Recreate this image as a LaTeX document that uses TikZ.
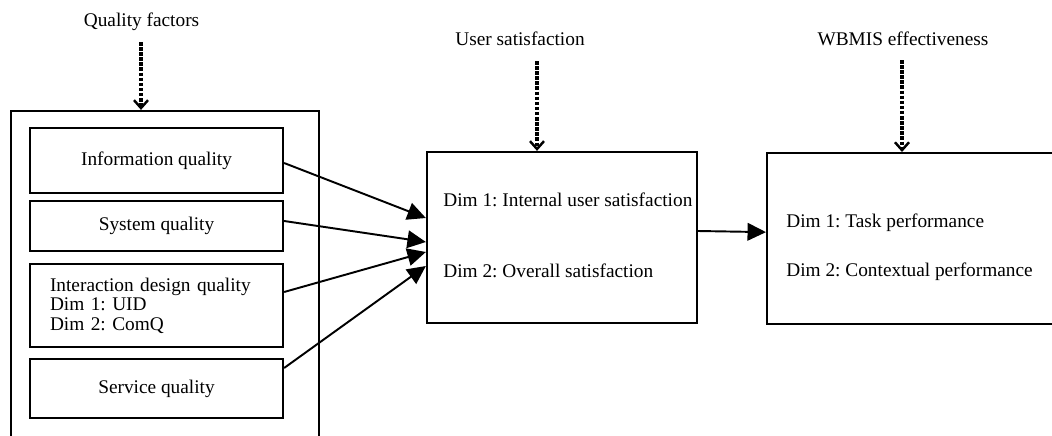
\documentclass[tikz,border=0pt]{standalone}
\usepackage{fontspec}
\setmainfont{Liberation Serif}
\usetikzlibrary{arrows.meta,positioning}
\frenchspacing

\begin{document}
\begin{tikzpicture}[x=0.02cm,y=-0.02cm,
    font=\fontsize{11}{11.1}\selectfont,
    box/.style={draw,line width=1.3pt,inner sep=0pt},
    inbox/.style={box,minimum width=5.06cm},
    txt/.style={inner sep=0pt,anchor=base west},
    link/.style={line width=1.1pt,-{Triangle[length=10.5pt,width=10pt]}},
    dotlink/.style={line width=1.8pt,dash pattern=on 2pt off 0.9pt,
      -{Straight Barb[length=4.5pt,width=8pt,line width=1.4pt]}}]
  \useasboundingbox (0,0) rectangle (1052,436);
  \clip (0,0) rectangle (1052,436);

  % Quality factors (frame runs past the bottom)
  \node[box,minimum width=6.16cm,minimum height=7.18cm] (factors) at (165,290.5) {};
  \node[inbox,minimum height=1.30cm] (info) at (156.5,160.5) {Information quality};
  \node[inbox,minimum height=1.0cm] (sys) at (156.5,226) {System quality};
  \node[inbox,minimum height=1.66cm,text width=4.26cm,align=left] (inter) at (156.5,305.5)
    {Interaction design quality\\Dim 1: UID\\Dim 2: ComQ};
  \node[inbox,minimum height=1.18cm] (serv) at (156.5,388.5) {Service quality};

  % User satisfaction
  \node[box,minimum width=5.4cm,minimum height=3.42cm] (usat) at (562,237.5) {};
  \node[txt] (usat1) at (443,206) {Dim 1: Internal user satisfaction};
  \node[txt] (usat2) at (443,277) {Dim 2: Overall satisfaction};

  % WBMIS effectiveness (frame runs past the right side)
  \node[box,minimum width=6.8cm,minimum height=3.42cm,anchor=north west] (eff) at (766,152) {};
  \node[txt] (eff1) at (786,227) {Dim 1: Task performance};
  \node[txt] (eff2) at (786,276) {Dim 2: Contextual performance};

  % Headings
  \node[inner sep=0pt,anchor=base] (qf) at (141.5,27) {Quality factors};
  \node[inner sep=0pt,anchor=base] (us) at (520,45) {User satisfaction};
  \node[inner sep=0pt,anchor=base] (we) at (903,45) {WBMIS effectiveness};

  % Dotted arrows into the frames
  \coordinate (qfin) at (141,42);
  \coordinate (usin) at (537,61);
  \coordinate (wein) at (902,60);
  \draw[dotlink] (qfin) -- (qfin |- factors.north);
  \draw[dotlink] (usin) -- (usin |- usat.north);
  \draw[dotlink] (wein) -- (wein |- eff.north);

  % Factors -> user satisfaction -> effectiveness
  \draw[link] ([yshift=-0.05cm]info.east) -- ([yshift=0.39cm]usat.west);
  \draw[link] ([yshift=0.1cm]sys.east) -- ([yshift=-0.09cm]usat.west);
  \draw[link] ([yshift=0.27cm]inter.east) -- ([yshift=-0.29cm]usat.west);
  \draw[link] ([yshift=0.41cm]serv.east) -- ([yshift=-0.57cm]usat.west);
  \draw[link] ([yshift=0.13cm]usat.east) -- ([yshift=0.13cm]eff.west);
\end{tikzpicture}
\end{document}
